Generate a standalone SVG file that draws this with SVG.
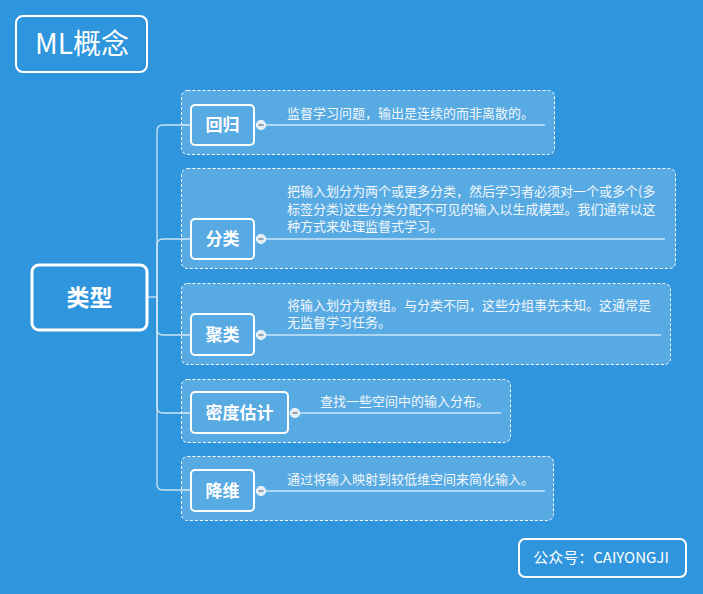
<svg xmlns="http://www.w3.org/2000/svg" width="703" height="594" viewBox="0 0 703 594">
<style>
.bd{fill:#ffffff;fill-opacity:0.2;stroke:#ffffff;stroke-width:1;stroke-dasharray:3 2}
.nd{fill:none;stroke:#ffffff;stroke-width:2}
.lb{font-family:"Noto Sans CJK SC","Liberation Sans",sans-serif;font-weight:bold;font-size:17px;fill:#ffffff;text-anchor:middle}
.ds{font-family:"Noto Sans CJK SC","Liberation Sans",sans-serif;font-size:13px;fill:#f2f8fd}
.ul{stroke:#ffffff;stroke-width:1.2}
.cn{fill:none;stroke:#cfe5f6;stroke-width:1.3}
.cc{fill:#e3eaf4;stroke:#f4f8fc;stroke-width:1.2}
.cm{stroke:#7a8aa2;stroke-width:1.5}
</style>
<rect x="0" y="0" width="703" height="594" fill="#2f95dc"/>

<g id="title">
<rect x="16" y="16" width="131" height="56" rx="7" fill="none" stroke="#ffffff" stroke-width="2"/>
<text x="82" y="54" font-family="Noto Sans CJK SC,Liberation Sans,sans-serif" font-size="28" fill="#ffffff" text-anchor="middle">ML概念</text>
</g>

<g id="connectors">
<path class="cn" d="M147,297 H157"/>
<path class="cn" d="M157,297 V131 Q157,125 163,125 H190"/>
<path class="cn" d="M157,297 V245 Q157,239 163,239 H190"/>
<path class="cn" d="M157,297 V329 Q157,335 163,335 H190"/>
<path class="cn" d="M157,297 V407 Q157,413 163,413 H190"/>
<path class="cn" d="M157,297 V484 Q157,490 163,490 H190"/>
</g>

<g id="central">
<rect x="32" y="265" width="115" height="65" rx="7" fill="none" stroke="#ffffff" stroke-width="3"/>
<text x="89.5" y="306" font-family="Noto Sans CJK SC,Liberation Sans,sans-serif" font-weight="bold" font-size="23" fill="#ffffff" text-anchor="middle">类型</text>
</g>

<g id="regression">
<rect class="bd" x="181.5" y="90.5" width="373" height="64" rx="6"/>
<rect class="nd" x="191" y="105" width="63" height="40" rx="4"/>
<text class="lb" x="222.5" y="131">回归</text>
<line class="ul" x1="265" y1="125" x2="545" y2="125"/>
<circle class="cc" cx="261" cy="125" r="4.5"/>
<line class="cm" x1="258.5" y1="125" x2="263.5" y2="125"/>
<text class="ds" x="287" y="118">监督学习问题，输出是连续的而非离散的。</text>
</g>

<g id="classification">
<rect class="bd" x="181.5" y="168.5" width="494" height="100" rx="6"/>
<rect class="nd" x="191" y="219" width="63" height="40" rx="4"/>
<text class="lb" x="222.5" y="245">分类</text>
<line class="ul" x1="265" y1="239" x2="665" y2="239"/>
<circle class="cc" cx="261" cy="239" r="4.5"/>
<line class="cm" x1="258.5" y1="239" x2="263.5" y2="239"/>
<text class="ds" x="287" y="196">把输入划分为两个或更多分类，然后学习者必须对一个或多个(多</text>
<text class="ds" x="287" y="213.5">标签分类)这些分类分配不可见的输入以生成模型。我们通常以这</text>
<text class="ds" x="287" y="231">种方式来处理监督式学习。</text>
</g>

<g id="clustering">
<rect class="bd" x="181.5" y="283.5" width="489" height="81" rx="6"/>
<rect class="nd" x="191" y="314" width="63" height="41" rx="4"/>
<text class="lb" x="222.5" y="341">聚类</text>
<line class="ul" x1="265" y1="335" x2="661" y2="335"/>
<circle class="cc" cx="261" cy="335" r="4.5"/>
<line class="cm" x1="258.5" y1="335" x2="263.5" y2="335"/>
<text class="ds" x="287" y="309.5">将输入划分为数组。与分类不同，这些分组事先未知。这通常是</text>
<text class="ds" x="287" y="327">无监督学习任务。</text>
</g>

<g id="density">
<rect class="bd" x="181.5" y="379.5" width="329" height="63" rx="6"/>
<rect class="nd" x="191" y="392" width="97" height="41" rx="4"/>
<text class="lb" x="239.5" y="419">密度估计</text>
<line class="ul" x1="299" y1="413" x2="501" y2="413"/>
<circle class="cc" cx="295" cy="413" r="4.5"/>
<line class="cm" x1="292.5" y1="413" x2="297.5" y2="413"/>
<text class="ds" x="320" y="406">查找一些空间中的输入分布。</text>
</g>

<g id="reduction">
<rect class="bd" x="181.5" y="456.5" width="372" height="64" rx="6"/>
<rect class="nd" x="191" y="470" width="63" height="41" rx="4"/>
<text class="lb" x="222.5" y="497">降维</text>
<line class="ul" x1="265" y1="491" x2="545" y2="491"/>
<circle class="cc" cx="261" cy="491" r="4.5"/>
<line class="cm" x1="258.5" y1="491" x2="263.5" y2="491"/>
<text class="ds" x="287" y="484">通过将输入映射到较低维空间来简化输入。</text>
</g>

<g id="footer">
<rect x="519" y="539" width="167" height="38" rx="6" fill="none" stroke="#ffffff" stroke-width="2"/>
<text x="601" y="563" font-family="Noto Sans CJK SC,Liberation Sans,sans-serif" font-size="15" fill="#ffffff" text-anchor="middle">公众号：CAIYONGJI</text>
</g>
</svg>
